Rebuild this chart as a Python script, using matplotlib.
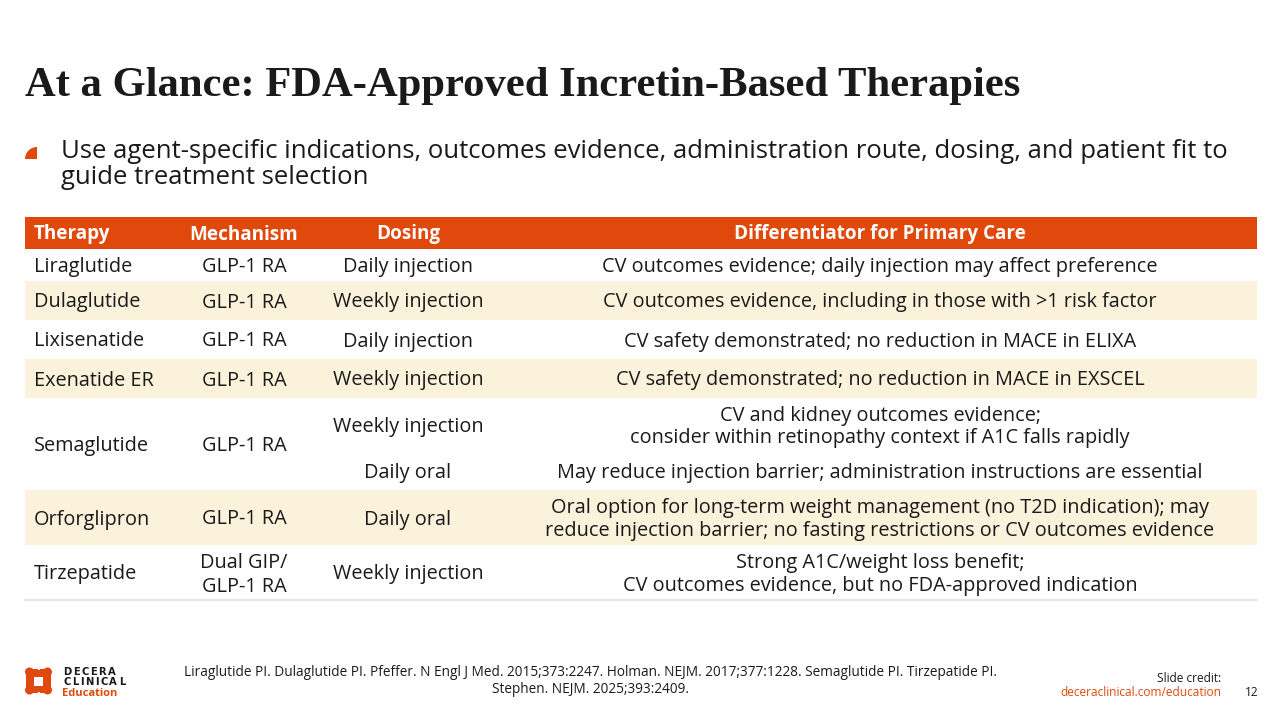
import matplotlib.pyplot as plt
from matplotlib.patches import Rectangle, FancyBboxPatch, Wedge, Circle

ORANGE = '#E0480C'
CREAM = '#FBF2DB'
DARK = '#1a1a1a'
FONT = 'Open Sans'

title = 'At a Glance: FDA-Approved Incretin-Based Therapies'
bullet_lines = ['Use agent-specific indications, outcomes evidence, administration route, dosing, and patient fit to',
                'guide treatment selection']

headers = ['Therapy', 'Mechanism', 'Dosing', 'Differentiator for Primary Care']
therapies = ['Liraglutide', 'Dulaglutide', 'Lixisenatide', 'Exenatide ER', 'Semaglutide', 'Orforglipron', 'Tirzepatide']
mechanisms = ['GLP-1 RA', 'GLP-1 RA', 'GLP-1 RA', 'GLP-1 RA', 'GLP-1 RA', 'GLP-1 RA', 'Dual GIP/\nGLP-1 RA']
dosing = [['Daily injection'], ['Weekly injection'], ['Daily injection'], ['Weekly injection'],
          ['Weekly injection', 'Daily oral'], ['Daily oral'], ['Weekly injection']]
differentiators = [
    ['CV outcomes evidence; daily injection may affect preference'],
    ['CV outcomes evidence, including in those with >1 risk factor'],
    ['CV safety demonstrated; no reduction in MACE in ELIXA'],
    ['CV safety demonstrated; no reduction in MACE in EXSCEL'],
    ['CV and kidney outcomes evidence;\nconsider within retinopathy context if A1C falls rapidly',
     'May reduce injection barrier; administration instructions are essential'],
    ['Oral option for long-term weight management (no T2D indication); may\nreduce injection barrier; no fasting restrictions or CV outcomes evidence'],
    ['Strong A1C/weight loss benefit;\nCV outcomes evidence, but no FDA-approved indication'],
]
references = ('Liraglutide PI. Dulaglutide PI. Pfeffer. N Engl J Med. 2015;373:2247. Holman. NEJM. 2017;377:1228. '
              'Semaglutide PI. Tirzepatide PI.\nStephen. NEJM. 2025;393:2409.')
page_number = '12'

# layout (pixels)
row_edges = [249, 281, 320, 359, 398, 490, 545, 600]
sub_edges = {4: [398, 452, 490]}
x_left, x_right = 25, 1257
col_x = [34, 244, 408, 880]
CELL_FS = 14.3

fig = plt.figure(figsize=(12.8, 7.2), dpi=100)
ax = fig.add_axes([0, 0, 1, 1])
ax.set_xlim(0, 1280)
ax.set_ylim(720, 0)
ax.axis('off')
renderer = fig.canvas.get_renderer()


def cell(x, mid, text, ha='center', spacing=23, **kw):
    lines = text.split('\n')
    first = mid + 7 - (len(lines) - 1) * spacing / 2
    for k, line in enumerate(lines):
        ax.text(x, first + k * spacing, line, ha=ha, va='baseline', family=FONT, **kw)


def spaced(x, y, word, tracking, **kw):
    # letter-spaced logo text, advancing by each glyph's drawn width
    for ch in word:
        t = ax.text(x, y, ch, ha='left', va='baseline', **kw)
        x += t.get_window_extent(renderer).width + tracking


ax.text(25, 86, title, fontsize=30.7, fontweight='bold', family='Liberation Serif', color=DARK, va='center')

ax.add_patch(Wedge((37, 159), 12, 180, 270, color=ORANGE, lw=0))
for i, line in enumerate(bullet_lines):
    ax.text(61, 152 + i * 25, line, fontsize=18.5, family=FONT, color=DARK, va='center')

# header
ax.add_patch(Rectangle((x_left, 217), x_right - x_left, 32, color=ORANGE, lw=0))
has = ['left', 'center', 'center', 'center']
for h, x, ha in zip(headers, col_x, has):
    cell(x, 232.5, h, ha=ha, fontsize=13.6, fontweight='bold', color='white')

for i, name in enumerate(therapies):
    top, bot = row_edges[i], row_edges[i + 1]
    if i % 2 == 1:
        ax.add_patch(Rectangle((x_left, top), x_right - x_left, bot - top, color=CREAM, lw=0))
    mid = (top + bot) / 2
    cell(col_x[0], mid, name, ha='left', fontsize=CELL_FS, color=DARK)
    cell(col_x[1], mid, mechanisms[i], spacing=24, fontsize=CELL_FS, color=DARK)
    edges = sub_edges.get(i, [top, bot])
    for j, (d, diff) in enumerate(zip(dosing[i], differentiators[i])):
        smid = (edges[j] + edges[j + 1]) / 2
        cell(col_x[2], smid, d, fontsize=CELL_FS, color=DARK)
        cell(col_x[3], smid, diff, spacing=22.5, fontsize=CELL_FS, color=DARK)
ax.plot([x_left, x_right], [row_edges[-1], row_edges[-1]], color='#E8E8DC', lw=1.5)

# footer logo
ax.add_patch(FancyBboxPatch((28, 671), 21, 20, boxstyle='round,pad=2', color=ORANGE, lw=0))
for (x, y) in [(29.5, 672), (47.5, 672), (29.5, 690), (47.5, 690)]:
    ax.add_patch(Circle((x, y), 4.5, color=ORANGE, lw=0))
ax.add_patch(Rectangle((34, 677), 9, 9, color='white', lw=0))
ax.add_patch(Rectangle((37.5, 667), 2, 3, color='white', lw=0))
ax.add_patch(Rectangle((37.5, 692), 2, 3, color='white', lw=0))
spaced(63, 675, 'DECERA', 1.6, fontsize=7.2, fontweight='bold', family='DejaVu Sans', color=DARK)
spaced(63, 685, 'CLINICAL', 1.6, fontsize=7.2, fontweight='bold', family='DejaVu Sans', color=DARK)
ax.text(62, 695.5, 'Education', fontsize=8, fontweight='bold', family=FONT, color=ORANGE, va='baseline')

ax.text(591, 681, references, fontsize=9.8, family=FONT, color=DARK, ha='center', va='center', linespacing=1.25)
ax.text(1221, 678, 'Slide credit:', fontsize=8.6, family=FONT, color=DARK, ha='right', va='center')
ax.text(1221, 692, 'deceraclinical.com/education', fontsize=8.6, family=FONT, color=ORANGE, ha='right', va='center')
ax.text(1252, 692, page_number, fontsize=8.6, family=FONT, color=DARK, ha='center', va='center')

fig.savefig('out.png', dpi=100)
